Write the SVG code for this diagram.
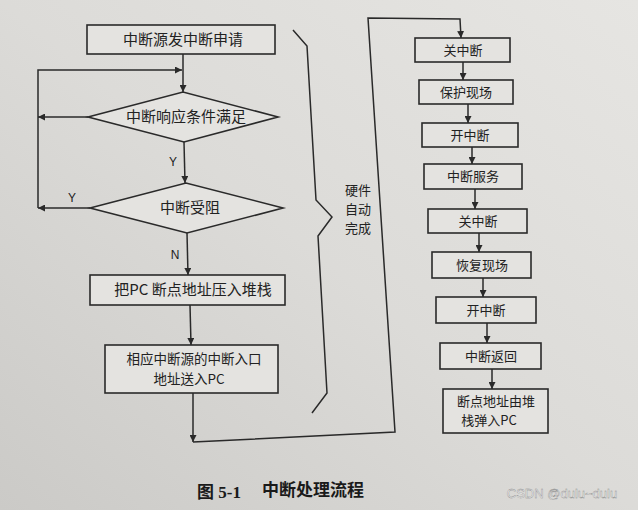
<svg xmlns="http://www.w3.org/2000/svg" width="638" height="510" viewBox="0 0 638 510">
  <defs>
    <linearGradient id="paper" x1="1" y1="0" x2="0" y2="1">
      <stop offset="0" stop-color="#e6e5e2"/>
      <stop offset="0.5" stop-color="#dcdbd8"/>
      <stop offset="1" stop-color="#cbcac7"/>
    </linearGradient>
    <marker id="arr" viewBox="0 0 10 10" refX="10" refY="5" markerWidth="7" markerHeight="7" markerUnits="userSpaceOnUse" orient="auto">
      <path d="M0,0 L10,5 L0,10 z" fill="#2a2a2a"/>
    </marker>
  </defs>
  <style>
    .box { fill: #e4e3e0; stroke: #2a2a2a; stroke-width: 1.6; }
    .con { fill: none; stroke: #2a2a2a; stroke-width: 1.5; }
    .t { font-family: "Noto Sans CJK SC", "Liberation Sans", sans-serif; font-size: 15px; fill: #222; text-anchor: middle; }
    .t2 { font-family: "Noto Sans CJK SC", "Liberation Sans", sans-serif; font-size: 13.5px; fill: #222; text-anchor: middle; }
    .ts { font-family: "Noto Sans CJK SC", "Liberation Sans", sans-serif; font-size: 13px; fill: #222; text-anchor: middle; }
    .lbl { font-family: "Liberation Sans", sans-serif; font-size: 12px; fill: #222; text-anchor: middle; }
    .cap { font-family: "Liberation Serif", "Noto Sans CJK SC", serif; font-size: 17px; fill: #1a1a1a; font-weight: bold; }
  </style>
  <rect x="0" y="0" width="638" height="510" fill="url(#paper)"/>

  <g id="connectors">
    <line class="con" x1="183" y1="54" x2="183" y2="92" marker-end="url(#arr)"/>
    <polyline class="con" points="38,208 38,70 182,70" marker-end="url(#arr)"/>
    <line class="con" x1="88" y1="117" x2="38" y2="117" marker-end="url(#arr)"/>
    <line class="con" x1="184" y1="142" x2="185" y2="183" marker-end="url(#arr)"/>
    <line class="con" x1="90" y1="208" x2="38" y2="208" marker-end="url(#arr)"/>
    <line class="con" x1="187" y1="233" x2="188" y2="275" marker-end="url(#arr)"/>
    <line class="con" x1="190" y1="305" x2="191" y2="345" marker-end="url(#arr)"/>
    <line class="con" x1="193" y1="393" x2="193" y2="442" marker-end="url(#arr)"/>
    <polyline class="con" points="193,442 395,432 368,18 460,19 461,38" marker-end="url(#arr)"/>
    <line class="con" x1="463" y1="62" x2="463" y2="80" marker-end="url(#arr)"/>
    <line class="con" x1="468" y1="104" x2="468" y2="123" marker-end="url(#arr)"/>
    <line class="con" x1="472" y1="147" x2="472" y2="164" marker-end="url(#arr)"/>
    <line class="con" x1="475" y1="189" x2="475" y2="209" marker-end="url(#arr)"/>
    <line class="con" x1="479" y1="233" x2="479" y2="252" marker-end="url(#arr)"/>
    <line class="con" x1="483" y1="278" x2="483" y2="297" marker-end="url(#arr)"/>
    <line class="con" x1="487" y1="323" x2="487" y2="343" marker-end="url(#arr)"/>
    <line class="con" x1="492" y1="369" x2="492" y2="389" marker-end="url(#arr)"/>
    <text class="lbl" x="173" y="166">Y</text>
    <text class="lbl" x="72" y="202">Y</text>
    <text class="lbl" x="175" y="259">N</text>
  </g>

  <g id="n1"><rect class="box" x="87" y="25" width="188" height="29"/><text class="t" x="183" y="45">中断源发中断申请</text></g>
  <g id="n2"><polygon class="box" points="88,117 183,92 278,117 184,142"/><text class="t" x="186" y="122">中断响应条件满足</text></g>
  <g id="n3"><polygon class="box" points="90,208 186,183 283,208 187,233"/><text class="t" x="190" y="213">中断受阻</text></g>
  <g id="n4"><rect class="box" x="90" y="275" width="195" height="30"/><text class="t" x="193" y="295">把PC 断点地址压入堆栈</text></g>
  <g id="n5"><rect class="box" x="105" y="345" width="173" height="48"/><text class="t2" x="194" y="364">相应中断源的中断入口</text><text class="t2" x="189" y="384">地址送入PC</text></g>

  <g id="brace"><polyline class="con" points="293,30 307,46 316,200 332,217 318,236 327,393 312,413"/>
    <text class="ts" x="358" y="195">硬件</text><text class="ts" x="358" y="214">自动</text><text class="ts" x="358" y="233">完成</text></g>

  <g id="r1"><rect class="box" x="415" y="38" width="95" height="24"/><text class="ts" x="463" y="55">关中断</text></g>
  <g id="r2"><rect class="box" x="419" y="80" width="94" height="24"/><text class="ts" x="466" y="97">保护现场</text></g>
  <g id="r3"><rect class="box" x="422" y="123" width="96" height="24"/><text class="ts" x="470" y="140">开中断</text></g>
  <g id="r4"><rect class="box" x="424" y="164" width="98" height="25"/><text class="ts" x="473" y="181">中断服务</text></g>
  <g id="r5"><rect class="box" x="428" y="209" width="99" height="24"/><text class="ts" x="478" y="226">关中断</text></g>
  <g id="r6"><rect class="box" x="432" y="252" width="99" height="26"/><text class="ts" x="482" y="270">恢复现场</text></g>
  <g id="r7"><rect class="box" x="436" y="297" width="100" height="26"/><text class="ts" x="486" y="315">开中断</text></g>
  <g id="r8"><rect class="box" x="440" y="343" width="101" height="26"/><text class="ts" x="491" y="361">中断返回</text></g>
  <g id="r9"><rect class="box" x="443" y="389" width="105" height="44"/><text class="ts" x="496" y="406">断点地址由堆</text><text class="ts" x="489" y="425">栈弹入PC</text></g>

  <g id="caption">
    <text class="cap" x="197" y="498">图 5-1</text>
    <text class="cap" x="262" y="496" font-family="Noto Sans CJK SC, sans-serif">中断处理流程</text>
    <text x="562" y="498" font-family="Liberation Sans, sans-serif" font-size="13" fill="#f7f7f7" stroke="#8a8a8a" stroke-width="0.4" text-anchor="middle">CSDN @dulu~dulu</text>
  </g>
</svg>
